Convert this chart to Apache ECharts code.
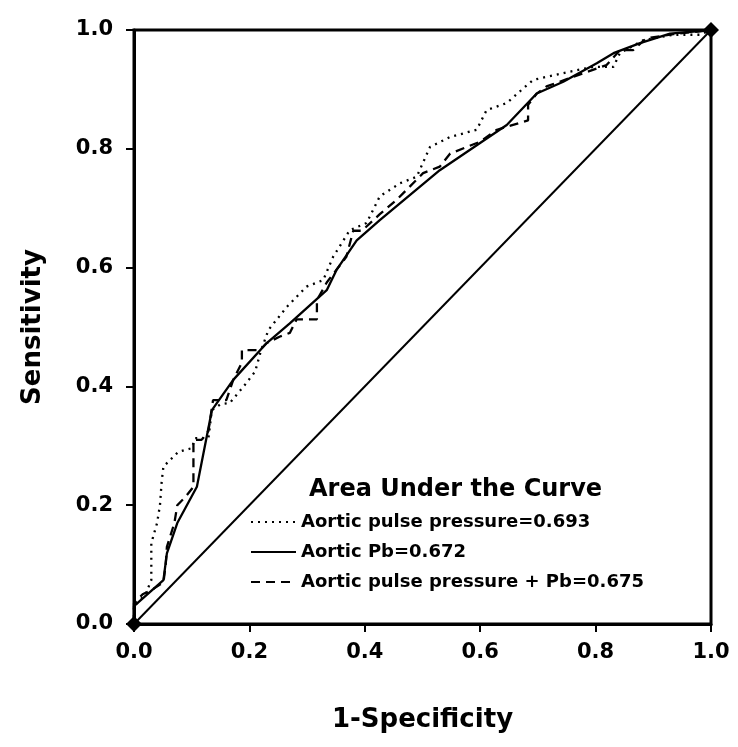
<!DOCTYPE html>
<html>
<head>
<meta charset="utf-8">
<script src="https://cdn.jsdelivr.net/npm/echarts@6/dist/echarts.min.js"></script>
<style>html,body{margin:0;padding:0;background:#fff;}#chart{width:738px;height:747px;}</style>
</head>
<body>
<div id="chart"></div>
<script>
// Tick labels
var tickValues = [0, 0.2, 0.4, 0.6, 0.8, 1.0];

// Series names
var nameDotted = 'Aortic pulse pressure=0.693';
var nameSolid = 'Aortic Pb=0.672';
var nameDashed = 'Aortic pulse pressure + Pb=0.675';

// Aortic pulse pressure (dotted): [1-specificity, sensitivity]
var pulsePressure = [
  [0,0],[0,0.03],[0.01,0.04],[0.02,0.05],[0.03,0.074],[0.03,0.136],[0.04,0.17],[0.045,0.2],
  [0.048,0.24],[0.051,0.265],[0.077,0.29],[0.1,0.296],[0.106,0.313],[0.129,0.313],[0.135,0.36],
  [0.15,0.37],[0.166,0.372],[0.19,0.4],[0.21,0.425],[0.22,0.46],[0.233,0.495],[0.265,0.534],
  [0.299,0.568],[0.328,0.579],[0.345,0.618],[0.374,0.663],[0.403,0.675],[0.426,0.72],
  [0.461,0.742],[0.49,0.753],[0.513,0.803],[0.548,0.82],[0.594,0.832],[0.611,0.865],
  [0.646,0.877],[0.675,0.902],[0.692,0.916],[0.756,0.93],[0.796,0.938],[0.831,0.938],
  [0.842,0.961],[0.883,0.983],[0.935,0.992],[0.981,0.992],[1,1]
];

// Aortic Pb (solid)
var aorticPb = [
  [0,0],[0,0.03],[0.051,0.074],[0.057,0.119],[0.075,0.17],[0.109,0.231],[0.135,0.36],
  [0.172,0.411],[0.23,0.473],[0.27,0.506],[0.334,0.562],[0.351,0.596],[0.386,0.646],
  [0.426,0.68],[0.53,0.764],[0.594,0.806],[0.646,0.84],[0.698,0.893],[0.744,0.913],
  [0.802,0.944],[0.831,0.961],[0.877,0.978],[0.929,0.994],[1,1]
];

// Aortic pulse pressure + Pb (dashed)
var combined = [
  [0,0],[0,0.035],[0.015,0.05],[0.035,0.06],[0.051,0.07],[0.055,0.1],[0.057,0.13],[0.07,0.17],
  [0.075,0.2],[0.09,0.215],[0.103,0.231],[0.103,0.31],[0.117,0.31],[0.129,0.325],[0.137,0.377],
  [0.16,0.377],[0.172,0.411],[0.187,0.44],[0.187,0.461],[0.218,0.461],[0.23,0.473],
  [0.253,0.484],[0.27,0.49],[0.282,0.513],[0.317,0.513],[0.317,0.545],[0.334,0.575],
  [0.368,0.618],[0.38,0.662],[0.395,0.662],[0.426,0.69],[0.455,0.714],[0.501,0.759],
  [0.53,0.77],[0.548,0.792],[0.6,0.812],[0.629,0.832],[0.683,0.848],[0.683,0.874],
  [0.698,0.893],[0.715,0.905],[0.761,0.921],[0.819,0.941],[0.842,0.966],[0.865,0.966],
  [0.888,0.986],[0.935,0.993],[1,1]
];

// Chance diagonal
var diagonal = [[0,0],[1,1]];

var FONT = 'DejaVu Sans';
var chart = echarts.init(document.getElementById('chart'));
chart.setOption({
  animation: false,
  backgroundColor: '#fff',
  title: {
    text: 'Area Under the Curve',
    left: 304, top: 473,
    textStyle: {fontFamily: FONT, fontWeight: 'bold', fontSize: 24, color: '#000'}
  },
  legend: {
    orient: 'vertical', left: 245, top: 508,
    itemWidth: 45, itemHeight: 14, itemGap: 12,
    itemStyle: {opacity: 0, borderWidth: 0},
    textStyle: {fontFamily: FONT, fontWeight: 'bold', fontSize: 18, color: '#000'},
    data: [nameDotted, nameSolid, nameDashed]
  },
  grid: {left: 134, right: 27, top: 30, bottom: 123, show: true, borderColor: '#000', borderWidth: 3},
  xAxis: {
    type: 'value', min: 0, max: 1, interval: 0.2,
    name: '1-Specificity', nameLocation: 'middle', nameGap: 83,
    nameTextStyle: {fontFamily: FONT, fontWeight: 'bold', fontSize: 26, color: '#000'},
    axisLine: {show: true, lineStyle: {color: '#000', width: 3}},
    axisTick: {show: true, inside: false, length: 8, lineStyle: {color: '#000', width: 2}},
    axisLabel: {margin: 18, fontFamily: FONT, fontWeight: 'bold', fontSize: 21, color: '#000',
      formatter: function (v) { return v.toFixed(1); }},
    splitLine: {show: false}
  },
  yAxis: {
    type: 'value', min: 0, max: 1, interval: 0.2,
    name: 'Sensitivity', nameLocation: 'middle', nameGap: 88, nameRotate: 90,
    nameTextStyle: {fontFamily: FONT, fontWeight: 'bold', fontSize: 26, color: '#000'},
    axisLine: {show: true, lineStyle: {color: '#000', width: 3}},
    axisTick: {show: true, inside: false, length: 8, lineStyle: {color: '#000', width: 2}},
    axisLabel: {margin: 21, fontFamily: FONT, fontWeight: 'bold', fontSize: 21, color: '#000',
      formatter: function (v) { return v.toFixed(1); }},
    splitLine: {show: false}
  },
  series: [
    {name: 'diag', type: 'line', data: diagonal, symbol: 'diamond', symbolSize: 16, clip: false,
      itemStyle: {color: '#000'}, lineStyle: {color: '#000', width: 2}, z: 5},
    {name: nameDotted, type: 'line', data: pulsePressure, symbol: 'none',
      lineStyle: {color: '#000', width: 2.3, type: [2, 5]}, itemStyle: {color: '#000'}},
    {name: nameSolid, type: 'line', data: aorticPb, symbol: 'none',
      lineStyle: {color: '#000', width: 2.3, type: 'solid'}, itemStyle: {color: '#000'}},
    {name: nameDashed, type: 'line', data: combined, symbol: 'none',
      lineStyle: {color: '#000', width: 2.3, type: [9, 6]}, itemStyle: {color: '#000'}}
  ]
});
</script>
</body>
</html>
